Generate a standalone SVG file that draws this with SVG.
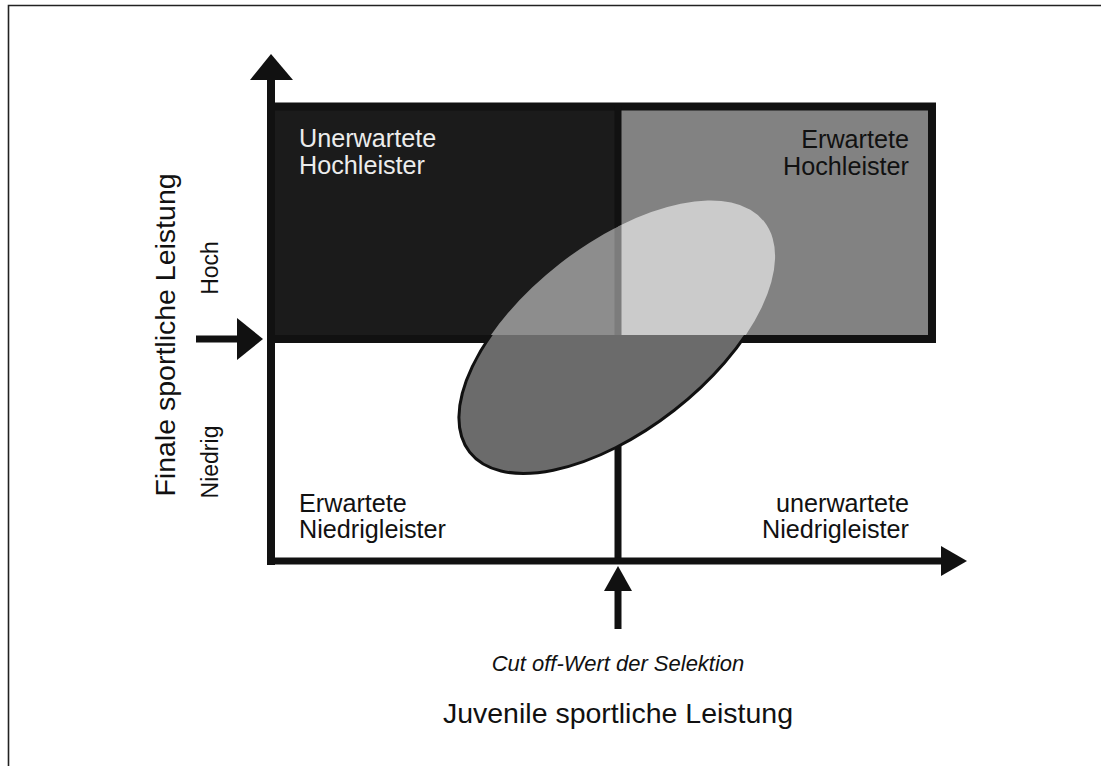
<svg xmlns="http://www.w3.org/2000/svg" width="1101" height="766" viewBox="0 0 1101 766">
  <style>
    .ink { fill: #111; }
    .bar { stroke: #111; fill: none; }
    .lbl { font-family: "Liberation Sans", Arial, sans-serif; font-size: 25.2px; fill: #111; }
    .lbl-light { fill: #ececec; }
    .axis-title { font-family: "Liberation Sans", Arial, sans-serif; font-size: 28.5px; fill: #111; }
    .level { font-family: "Liberation Sans", Arial, sans-serif; font-size: 23px; fill: #111; }
    .note { font-family: "Liberation Sans", Arial, sans-serif; font-size: 22px; font-style: italic; fill: #111; }
  </style>
  <defs>
    <clipPath id="clip-ul"><rect x="271" y="106" width="347" height="229"/></clipPath>
    <clipPath id="clip-ur"><rect x="618" y="106" width="314" height="229"/></clipPath>
    <clipPath id="clip-low"><rect x="0" y="335" width="1101" height="431"/></clipPath>
    <clipPath id="clip-ell"><ellipse cx="617" cy="337" rx="187" ry="93" transform="rotate(-38 617 337)"/></clipPath>
    <mask id="mask-out-ell">
      <rect x="0" y="0" width="1101" height="766" fill="#fff"/>
      <ellipse cx="617" cy="337" rx="187" ry="93" transform="rotate(-38 617 337)" fill="#000"/>
    </mask>
  </defs>

  <rect x="0" y="0" width="1101" height="766" fill="#fff"/>
  <!-- page frame -->
  <path d="M8.5 766 V5.5 H1101" fill="none" stroke="#222" stroke-width="1.6"/>

  <!-- quadrant fills -->
  <g id="quadrant-upper-left">
    <rect x="271" y="106" width="347" height="233" fill="#1b1b1b"/>
  </g>
  <g id="quadrant-upper-right">
    <rect x="618" y="106" width="314" height="233" fill="#828282"/>
  </g>

  <!-- distribution ellipse, shaded per quadrant -->
  <g id="ellipse">
    <g clip-path="url(#clip-ul)">
      <ellipse cx="617" cy="337" rx="187" ry="93" transform="rotate(-38 617 337)" fill="#8d8d8d"/>
    </g>
    <g clip-path="url(#clip-ur)">
      <ellipse cx="617" cy="337" rx="187" ry="93" transform="rotate(-38 617 337)" fill="#cbcbcb"/>
    </g>
    <g clip-path="url(#clip-low)">
      <ellipse cx="617" cy="337" rx="187" ry="93" transform="rotate(-38 617 337)" fill="#6b6b6b" stroke="#111" stroke-width="3"/>
    </g>
    <g clip-path="url(#clip-ell)">
      <line x1="618" y1="106" x2="618" y2="335" stroke="#7c7c7c" stroke-width="7"/>
    </g>
  </g>

  <g id="connectors">
    <!-- frame of the upper band -->
    <path class="bar" d="M267 106.5 H932 V339" stroke-width="8"/>
    <g mask="url(#mask-out-ell)">
      <line class="bar" x1="267" y1="339" x2="936" y2="339" stroke-width="8"/>
      <line class="bar" x1="618" y1="106" x2="618" y2="561" stroke-width="7"/>
    </g>
    <!-- vertical axis -->
    <line class="bar" x1="271" y1="76" x2="271" y2="565" stroke-width="8"/>
    <polygon class="ink" points="250,80 271,54 293,80"/>
    <!-- horizontal axis -->
    <line class="bar" x1="267" y1="561" x2="944" y2="561" stroke-width="7"/>
    <polygon class="ink" points="941,546 967,561 941,576"/>
    <!-- threshold marker on the vertical axis -->
    <line class="bar" x1="196" y1="339" x2="240" y2="339" stroke-width="7"/>
    <polygon class="ink" points="237,318 263,339 237,360"/>
    <!-- cut-off marker on the horizontal axis -->
    <line class="bar" x1="618" y1="588" x2="618" y2="629" stroke-width="7"/>
    <polygon class="ink" points="604,591 618,566 632,591"/>
  </g>

  <!-- quadrant labels -->
  <g id="label-unexpected-high">
    <text class="lbl lbl-light" x="299" y="147">Unerwartete</text>
    <text class="lbl lbl-light" x="299" y="174">Hochleister</text>
  </g>
  <g id="label-expected-high">
    <text class="lbl" x="909" y="148" text-anchor="end">Erwartete</text>
    <text class="lbl" x="909" y="175" text-anchor="end">Hochleister</text>
  </g>
  <g id="label-expected-low">
    <text class="lbl" x="299" y="512">Erwartete</text>
    <text class="lbl" x="299" y="538">Niedrigleister</text>
  </g>
  <g id="label-unexpected-low">
    <text class="lbl" x="909" y="512" text-anchor="end">unerwartete</text>
    <text class="lbl" x="909" y="538" text-anchor="end">Niedrigleister</text>
  </g>

  <!-- axis titles -->
  <g id="axis-y-title">
    <text class="axis-title" transform="translate(175 335) rotate(-90)" text-anchor="middle">Finale sportliche Leistung</text>
    <text class="level" transform="translate(218 268) rotate(-90)" text-anchor="middle">Hoch</text>
    <text class="level" transform="translate(218 462) rotate(-90)" text-anchor="middle">Niedrig</text>
  </g>
  <g id="axis-x-title">
    <text class="note" x="618" y="671" text-anchor="middle">Cut off-Wert der Selektion</text>
    <text class="axis-title" x="618" y="723" text-anchor="middle">Juvenile sportliche Leistung</text>
  </g>
</svg>
